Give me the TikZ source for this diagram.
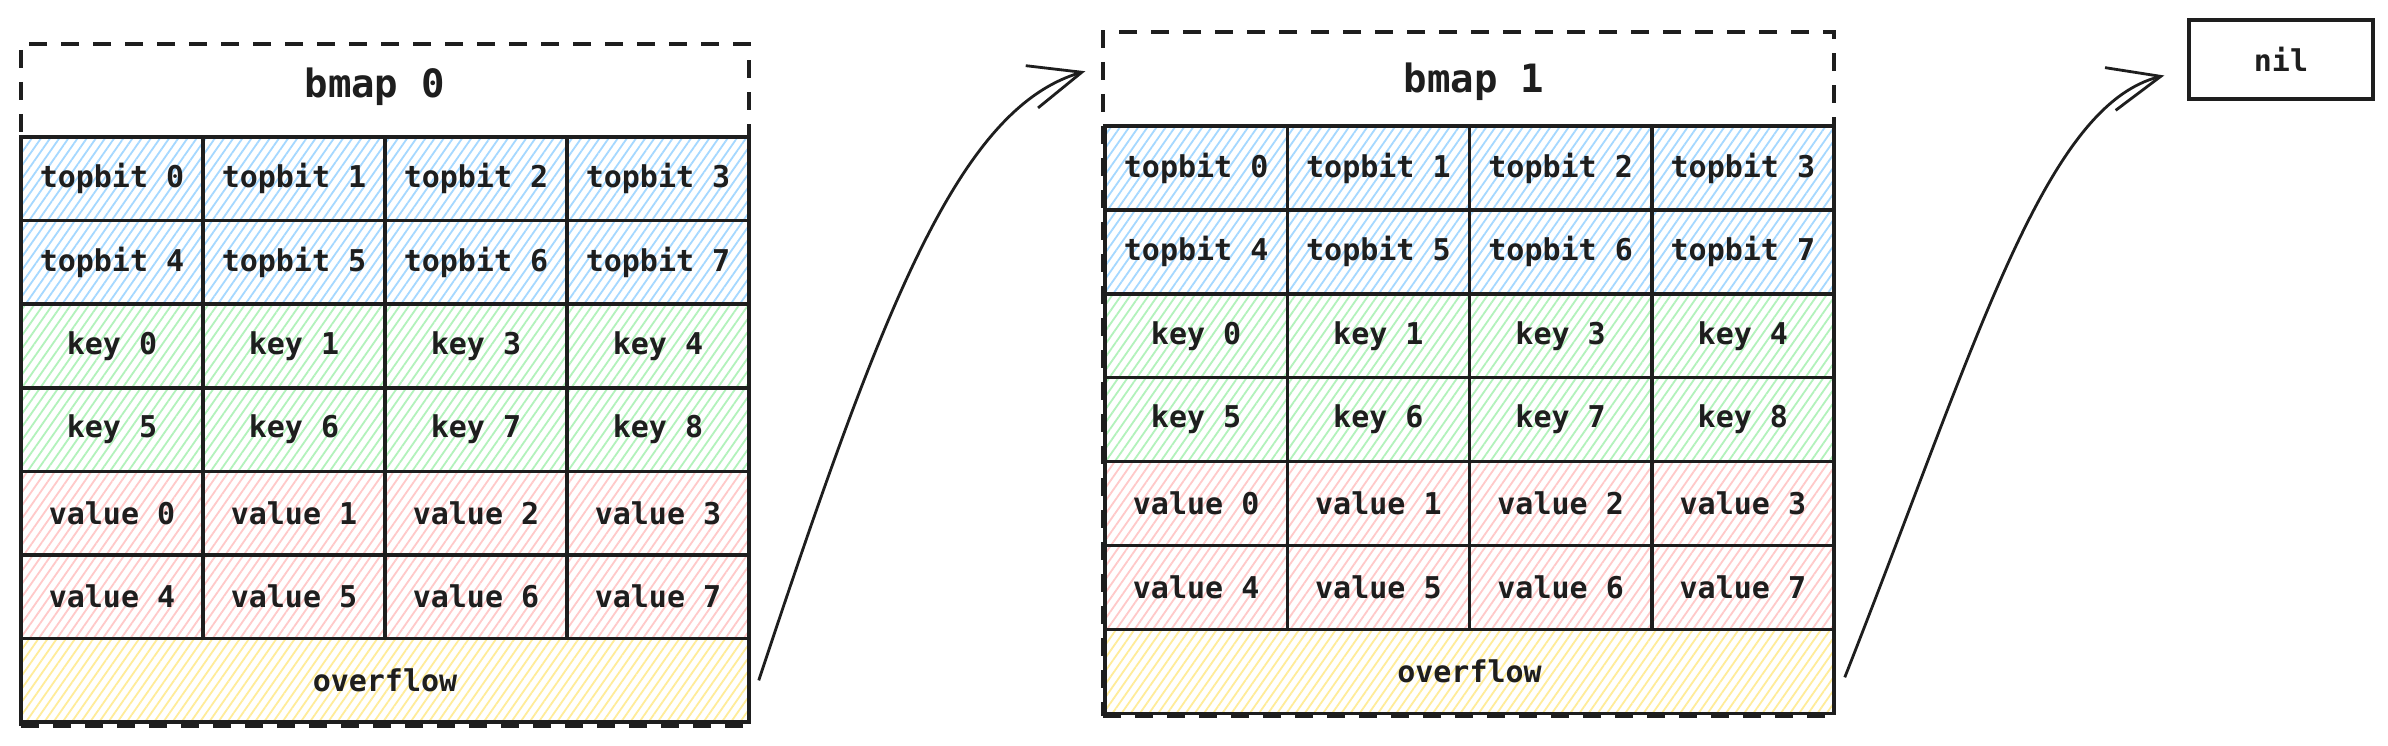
\documentclass[tikz,border=0pt]{standalone}
\usepackage{fontspec}
\setmonofont{DejaVu Sans Mono}
\usetikzlibrary{patterns.meta,arrows.meta,calc}
\definecolor{ink}{HTML}{1E1E1E}
\definecolor{hblue}{HTML}{A5D8FF}
\definecolor{hgreen}{HTML}{B2F2BB}
\definecolor{hred}{HTML}{FFC9C9}
\definecolor{hyellow}{HTML}{FFEC99}
\tikzset{
  celltext/.style={font=\ttfamily\bfseries\fontsize{30}{36}\selectfont, text=ink},
  cell/.style={draw=ink, line width=3.5pt, inner sep=0pt, celltext,
    pattern={Lines[angle=55,distance=7.5pt,line width=1.8pt]}},
  bucket/.style={draw=ink, line width=3.5pt, dash pattern=on 18pt off 14pt, inner sep=0pt},
  title/.style={font=\ttfamily\bfseries\fontsize{39}{46}\selectfont, text=ink},
  plainbox/.style={draw=ink, line width=3.5pt, inner sep=0pt, celltext},
  conn/.style={draw=ink, line width=2.8pt, -{Straight Barb[length=52pt,width=44pt]}}
}
\begin{document}
\begin{tikzpicture}[x=1pt,y=-1pt]
\useasboundingbox[fill=white] (0,0) rectangle (2388,746);
% bucket frames
\node[bucket, minimum width=728pt, minimum height=682pt] (b0) at (385,385) {};
\node[bucket, minimum width=731pt, minimum height=684pt] (b1) at (1468.5,374) {};
\node[title] (t0) at (375,87) {bmap 0};
\node[title] (t1) at (1474,82) {bmap 1};
\foreach \b/\xo/\yo/\cw/\rh in {0/21/137/182/83.6, 1/1105/126/182.25/83.9}{
  \foreach \r/\colr/\la/\lb/\lc/\ld in {
    0/hblue/topbit 0/topbit 1/topbit 2/topbit 3,
    1/hblue/topbit 4/topbit 5/topbit 6/topbit 7,
    2/hgreen/key 0/key 1/key 3/key 4,
    3/hgreen/key 5/key 6/key 7/key 8,
    4/hred/value 0/value 1/value 2/value 3,
    5/hred/value 4/value 5/value 6/value 7}{
    \node[cell, pattern color=\colr, minimum width=\cw*1pt, minimum height=\rh*1pt]
      (c\b-\r-0) at ({\xo+0.5*\cw},{\yo+(\r+0.5)*\rh}) {\la};
    \node[cell, pattern color=\colr, minimum width=\cw*1pt, minimum height=\rh*1pt]
      (c\b-\r-1) at ({\xo+1.5*\cw},{\yo+(\r+0.5)*\rh}) {\lb};
    \node[cell, pattern color=\colr, minimum width=\cw*1pt, minimum height=\rh*1pt]
      (c\b-\r-2) at ({\xo+2.5*\cw},{\yo+(\r+0.5)*\rh}) {\lc};
    \node[cell, pattern color=\colr, minimum width=\cw*1pt, minimum height=\rh*1pt]
      (c\b-\r-3) at ({\xo+3.5*\cw},{\yo+(\r+0.5)*\rh}) {\ld};
  }
  \node[cell, pattern color=hyellow, minimum width=4*\cw*1pt, minimum height=\rh*1pt]
    (of\b) at ({\xo+2*\cw},{\yo+6.5*\rh}) {overflow};
}
\node[plainbox, minimum width=184pt, minimum height=79pt] (nil) at (2281,59.5) {nil};
% connectors
\draw[conn] ([xshift=8pt]of0.east) .. controls +(123,-371) and +(-127,37) .. ([shift={(-16pt,-41pt)}]b1.north west);
\draw[conn] ([shift={(9pt,-6pt)}]of1.east) .. controls +(132,-335) and +(-120,30) .. ([shift={(-23pt,-16pt)}]nil.west);
\end{tikzpicture}
\end{document}
